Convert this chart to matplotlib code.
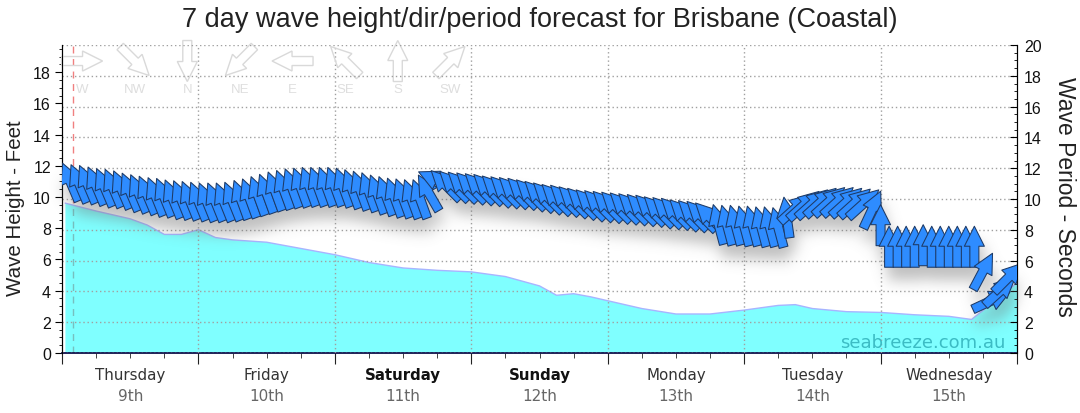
import numpy as np
import matplotlib
matplotlib.use('Agg')
import matplotlib.pyplot as plt
from matplotlib.path import Path
from matplotlib.patches import PathPatch, Polygon
from matplotlib.collections import PolyCollection
from matplotlib.transforms import IdentityTransform, blended_transform_factory

plt.rcParams['font.family'] = ['Liberation Sans', 'DejaVu Sans']

title = '7 day wave height/dir/period forecast for Brisbane (Coastal)'
days = ['Thursday', 'Friday', 'Saturday', 'Sunday', 'Monday', 'Tuesday', 'Wednesday']
dates = ['9th', '10th', '11th', '12th', '13th', '14th', '15th']
weekend = ['Saturday', 'Sunday']

# wave height (ft) against hours from Thursday 00:00
height_hours = [0.6, 6, 12, 15, 18, 21, 24, 27, 30, 36, 42, 48, 54, 60, 66, 72, 78, 84, 87, 90,
                93, 96, 102, 108, 114, 120, 126, 129, 132, 138, 144, 150, 156, 160, 164, 168]
height_ft = [9.6, 9.1, 8.6, 8.2, 7.6, 7.6, 7.9, 7.4, 7.25, 7.1, 6.7, 6.3, 5.8, 5.45, 5.3, 5.2, 4.9, 4.3, 3.7, 3.8,
             3.6, 3.35, 2.85, 2.5, 2.5, 2.75, 3.05, 3.1, 2.85, 2.65, 2.6, 2.45, 2.35, 2.15, 3.3, 4.5]

# swell arrows every 1.5 h: period (s) and direction the swell comes from (deg)
arrow_hours = np.arange(1.5, 167, 1.5)
period_s = [11.1, 11.0, 10.95, 10.85, 10.75, 10.7, 10.6, 10.45, 10.35, 10.25,
            10.15, 10.1, 10.0, 9.95, 9.9, 9.85, 9.8, 9.8, 9.8, 9.85,
            9.95, 10.05, 10.2, 10.35, 10.5, 10.6, 10.7, 10.75, 10.8, 10.8,
            10.8, 10.8, 10.75, 10.65, 10.55, 10.45, 10.3, 10.2, 10.1, 10.05,
            10.0, 10.0, 10.4, 11.2, 10.9, 10.85, 10.8, 10.75, 10.7, 10.65,
            10.55, 10.5, 10.45, 10.4, 10.3, 10.2, 10.1, 10.0, 9.95, 9.85,
            9.75, 9.65, 9.6, 9.55, 9.5, 9.45, 9.4, 9.35, 9.3, 9.2,
            9.15, 9.1, 9.0, 8.95, 8.9, 8.8, 8.35, 8.3, 8.3, 8.25,
            8.25, 8.2, 8.2, 8.15, 8.8, 9.4, 9.6, 9.7, 9.8, 9.85,
            9.85, 9.8, 9.75, 9.7, 9.3, 8.3, 6.9, 6.9, 6.9, 6.9,
            7.0, 6.9, 6.9, 6.9, 6.9, 6.9, 6.9, 5.3, 3.4, 4.0, 4.9]
dir_from = [157, 157, 157, 157, 157, 157, 157, 157, 157, 157,
            158, 158, 158, 158, 158, 158, 158, 158, 158, 158,
            160, 160, 160, 160, 160, 160, 160, 160, 160, 160,
            160, 160, 160, 160, 160, 160, 160, 160, 160, 160,
            160, 160, 150, 115, 135, 135, 135, 135, 135, 135,
            135, 135, 135, 135, 135, 135, 135, 135, 135, 135,
            135, 135, 135, 135, 135, 135, 135, 135, 135, 135,
            135, 135, 135, 135, 135, 135, 165, 165, 165, 165,
            165, 165, 165, 165, 172, 228, 228, 228, 228, 228,
            228, 228, 228, 228, 205, 180, 180, 180, 180, 180,
            180, 180, 180, 180, 180, 180, 180, 208, 245, 228, 225]

compass = ['W', 'NW', 'N', 'NE', 'E', 'SE', 'S', 'SW']
compass_deg = [270, 315, 0, 45, 90, 135, 180, 225]
now_hour = 2

fig = plt.figure(figsize=(10.8, 4.14), dpi=100)
ax1 = fig.add_axes([62 / 1080, 60 / 414, 955 / 1080, 308 / 414])
ax2 = ax1.twinx()

ax1.set_xlim(0, 168)
ax1.set_ylim(0, 19.74)
ax2.set_ylim(0, 20)

# left axis
ax1.set_yticks(np.arange(0, 19, 2))
ax1.set_yticks(np.arange(0, 19.74, 0.5), minor=True)
ax1.tick_params(axis='y', which='major', direction='out', length=5, labelsize=11.5, pad=3, labelcolor='#111111')
ax1.tick_params(axis='y', which='minor', direction='out', length=2.5)
# right axis
ax2.set_yticks(np.arange(0, 21, 2))
ax2.set_yticks(np.arange(0, 20.1, 0.5), minor=True)
ax2.tick_params(axis='y', which='major', direction='in', length=5, labelsize=11.5, pad=5, labelcolor='#111111')
ax2.tick_params(axis='y', which='minor', direction='in', length=2.5)
ax2.grid(axis='y', color='#a0a0a0', linestyle=(0, (1, 2)), linewidth=1)
# x axis
ax1.set_xticks(np.arange(0, 169, 24))
ax1.set_xticks(np.arange(0, 169, 6), minor=True)
ax1.set_xticklabels([])
ax1.tick_params(axis='x', which='major', direction='out', length=8, color='#222222')
ax1.tick_params(axis='x', which='minor', direction='out', length=3.5, color='#222222')

for ax in (ax1, ax2):
    ax.spines['top'].set_visible(False)
ax1.spines['bottom'].set_color('#10104a')
ax1.spines['bottom'].set_linewidth(1.3)
ax2.spines['bottom'].set_visible(False)

for d in range(24, 168, 24):
    ax2.axvline(d, color='#a0a0a0', linestyle=(0, (1, 2)), linewidth=1, zorder=1)

# now line and wave height
ax1.axvline(now_hour, color='#f08080', linestyle=(0, (5, 4)), linewidth=1, zorder=1)
ax1.fill_between(height_hours, 0, height_ft, facecolor='#00ffff', alpha=0.5, edgecolor='none', zorder=2)
ax1.plot(height_hours, height_ft, color='#a8b4ff', linewidth=1, zorder=3)

# arrow shape in pixels, pointing up, centred
shape = np.array([[0, 20.5], [-10, 0.5], [-4.5, 0.5], [-4.5, -20.5], [4.5, -20.5], [4.5, 0.5], [10, 0.5]])


def arrow_poly(cx, cy, from_deg):
    a = np.deg2rad(-(from_deg + 180))
    rot = np.array([[np.cos(a), -np.sin(a)], [np.sin(a), np.cos(a)]])
    return shape @ rot.T + [cx, cy]


def blur(im, dpi):
    pad = 22
    a = np.pad(im[:, :, 3], pad)
    k = np.exp(-0.5 * (np.arange(-pad, pad + 1) / 7.0) ** 2)
    k /= k.sum()
    a = np.apply_along_axis(lambda r: np.convolve(r, k, 'same'), 0, a)
    a = np.apply_along_axis(lambda r: np.convolve(r, k, 'same'), 1, a)
    out = np.zeros(a.shape + (4,), dtype=float)
    out[..., :3] = 0.45
    out[..., 3] = np.clip(a * 0.45, 0, 1)
    return out, -pad, -pad


centers = ax2.transData.transform(np.column_stack([arrow_hours, period_s]))
polys = [arrow_poly(cx, cy, d) for (cx, cy), d in zip(centers, dir_from)]

shadow_path = Path.make_compound_path_from_polys(np.array([p + [3, -13] for p in polys]))
shadow = PathPatch(shadow_path, transform=IdentityTransform(), facecolor='#777777', edgecolor='none', zorder=3)
shadow.set_agg_filter(blur)
ax2.add_artist(shadow)

arrows = PolyCollection(polys, facecolors='#2e8cff', edgecolors='#1d3a66', linewidths=0.75,
                        transform=IdentityTransform(), zorder=4)
ax2.add_collection(arrows, autolim=False)

# compass key
for i, (name, deg) in enumerate(zip(compass, compass_deg)):
    xf = 0.021 + 0.0551 * i
    cx, cy = ax2.transAxes.transform((xf, 0.948))
    ax2.add_patch(Polygon(arrow_poly(cx, cy, deg), closed=True, facecolor='none', edgecolor='#d9d9d9',
                          linewidth=1, transform=IdentityTransform(), clip_on=False, zorder=1.5))
    ax2.text(xf, 0.857, name, transform=ax2.transAxes, ha='center', va='center', fontsize=9.5,
             color='#dedede')

# day labels
trans = blended_transform_factory(ax1.transData, ax1.transAxes)
for i, (day, date) in enumerate(zip(days, dates)):
    ax1.text(24 * i + 12, -0.0714, day, transform=trans, ha='center', va='center', fontsize=10.8,
             family='DejaVu Sans', color='#111111' if day in weekend else '#333333',
             weight='bold' if day in weekend else 'normal')
    ax1.text(24 * i + 12, -0.1396, date, transform=trans, ha='center', va='center', fontsize=11,
             family='DejaVu Sans', color='#666666')

ax2.text(0.9874, 0.02, 'seabreeze.com.au', transform=ax2.transAxes, ha='right', va='baseline',
         fontsize=13, family='DejaVu Sans', color='#3cbcc4', zorder=5)

fig.text(0.5, 1 - 20 / 414, title, ha='center', va='center', fontsize=19.5, color='#222222')
fig.text(16 / 1080, 1 - 208 / 414, 'Wave Height - Feet', rotation=90, ha='center', va='center',
         fontsize=14.8, color='#222222')
fig.text(1065 / 1080, 1 - 197 / 414, 'Wave Period - Seconds', rotation=270, ha='center', va='center',
         fontsize=16.5, color='#222222')

fig.savefig('out.png', dpi=100, facecolor='white')
